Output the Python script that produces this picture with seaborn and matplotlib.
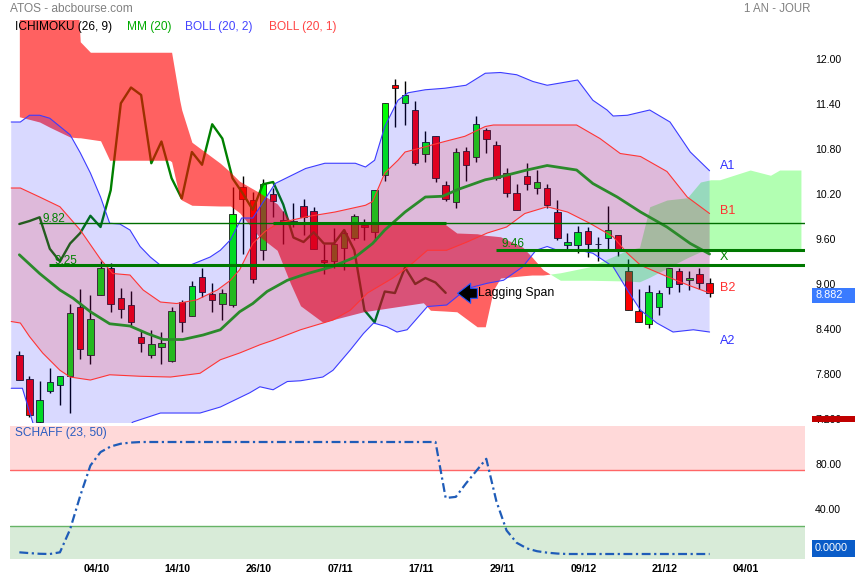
import numpy as np
import matplotlib
matplotlib.use("Agg")
import matplotlib.pyplot as plt
import seaborn as sns
from matplotlib.patches import Rectangle, FancyArrowPatch

sns.set_theme(style="white")
plt.rcParams['font.family'] = ['Liberation Sans', 'DejaVu Sans']

W, H = 855, 580

# %% data (x = session index, 0 = first visible candle)
opens = [8.05, 7.74, 7.16, 7.58, 7.66, 7.78, 8.70, 8.06, 8.85, 9.22,
         8.82, 8.72, 8.29, 8.05, 8.16, 7.98, 8.76, 8.58, 9.09, 8.87,
         8.74, 8.72, 10.29, 10.12, 9.46, 10.20, 9.86, 9.81, 10.04, 9.98,
         9.32, 9.31, 9.48, 9.61, 9.79, 9.69, 10.46, 11.66, 11.42, 11.32,
         10.74, 10.97, 10.32, 10.09, 10.78, 10.70, 11.06, 10.86, 10.48, 10.22,
         10.44, 10.28, 10.28, 9.96, 9.52, 9.52, 9.71, 9.54, 9.62, 9.66,
         9.17, 8.64, 8.47, 8.69, 8.96, 9.17, 9.05, 9.14, 9.02]
highs = [8.11, 7.78, 7.71, 7.88, 7.78, 8.74, 8.94, 8.85, 9.31, 9.28,
         8.95, 8.91, 8.39, 8.39, 8.36, 8.70, 8.79, 9.04, 9.22, 9.02,
         8.93, 10.30, 10.44, 10.23, 10.40, 10.28, 9.97, 10.08, 10.13, 10.03,
         9.54, 9.75, 9.73, 9.93, 9.87, 10.25, 11.41, 11.73, 11.71, 11.44,
         11.04, 10.97, 10.37, 10.82, 10.83, 11.24, 11.08, 10.91, 10.55, 10.33,
         10.61, 10.52, 10.33, 10.12, 9.68, 9.78, 9.76, 9.63, 10.04, 9.66,
         9.33, 8.93, 8.99, 8.92, 9.22, 9.21, 9.17, 9.21, 9.08]
lows = [7.72, 7.23, 7.15, 7.55, 7.39, 7.28, 8.00, 7.94, 8.85, 8.63,
        8.55, 8.44, 8.10, 8.02, 7.94, 7.96, 8.36, 8.58, 8.83, 8.63,
        8.52, 8.70, 9.40, 9.01, 9.32, 9.90, 9.54, 9.76, 9.65, 9.47,
        9.14, 9.21, 9.19, 9.59, 9.59, 9.58, 10.38, 11.09, 11.12, 10.59,
        10.63, 10.36, 10.11, 10.01, 10.38, 10.63, 10.75, 10.39, 10.16, 9.99,
        10.25, 10.20, 10.02, 9.59, 9.45, 9.41, 9.36, 9.31, 9.45, 9.38,
        8.65, 8.49, 8.41, 8.59, 8.87, 8.90, 8.92, 8.94, 8.83]
closes = [7.72, 7.25, 7.46, 7.70, 7.78, 8.62, 8.13, 8.53, 9.22, 8.74,
          8.67, 8.50, 8.21, 8.20, 8.22, 8.64, 8.50, 8.98, 8.89, 8.79,
          8.88, 9.93, 10.14, 9.07, 10.34, 10.11, 9.80, 9.84, 9.89, 9.47,
          9.30, 9.54, 9.68, 9.91, 9.76, 10.25, 11.41, 11.62, 11.52, 10.61,
          10.90, 10.41, 10.14, 10.76, 10.59, 11.13, 10.94, 10.41, 10.21, 9.99,
          10.33, 10.36, 10.06, 9.62, 9.56, 9.69, 9.54, 9.54, 9.72, 9.45,
          8.65, 8.49, 8.90, 8.88, 9.22, 9.00, 9.08, 9.02, 8.882]

# Bollinger (20, 2)
boll2_up_x = [-0.8, 0.1, 1.0, 2.0, 3.0, 5.0, 6.0, 7.0, 8.0, 8.9, 9.9, 10.9, 11.9, 12.9, 13.9, 16.8,
              18.8, 19.8, 20.8, 21.9, 23.0, 25.2, 28.2, 30.1, 33.1, 34.1, 35.0, 36.0, 37.3, 38.3,
              40.0, 41.9, 44.0, 45.9, 47.4, 49.0, 50.6, 52.0, 53.3, 55.0, 56.5, 57.9, 58.5, 59.9,
              62.1, 64.1, 66.1, 68.0]
boll2_up = [11.16, 11.16, 11.25, 11.25, 11.21, 10.99, 10.75, 10.48, 10.16, 9.81, 9.80, 9.72, 9.50,
            9.36, 9.25, 9.25, 9.36, 9.45, 9.59, 9.88, 9.88, 10.34, 10.54, 10.61, 10.61, 10.56, 10.65,
            11.10, 11.45, 11.55, 11.59, 11.61, 11.65, 11.81, 11.82, 11.79, 11.70, 11.65, 11.68, 11.72,
            11.45, 11.32, 11.24, 11.25, 11.32, 11.16, 10.76, 10.51]
boll2_lo_x = [-0.8, 0.3, 1.4, 2.5, 4.0, 6.0, 9.0, 11.2, 13.9, 17.8, 19.8, 22.7, 23.7, 25.0, 26.4,
              27.7, 29.9, 30.9, 32.6, 33.9, 34.9, 36.2, 37.2, 38.2, 40.2, 42.1, 44.1, 46.1, 47.7,
              49.6, 50.9, 52.0, 53.0, 55.2, 56.5, 58.5, 59.9, 61.2, 62.8, 64.4, 66.4, 68.0]
boll2_lo = [7.61, 7.61, 7.12, 6.95, 6.80, 6.75, 6.90, 7.16, 7.28, 7.28, 7.36, 7.55, 7.63, 7.59,
            7.70, 7.71, 7.76, 7.85, 8.12, 8.34, 8.48, 8.43, 8.36, 8.39, 8.70, 8.72, 8.94, 9.01,
            9.05, 9.23, 9.45, 9.50, 9.45, 9.45, 9.41, 9.23, 8.92, 8.65, 8.48, 8.36, 8.39, 8.36]
# Bollinger (20, 1)
boll1_up_x = [-0.8, 0.1, 2.0, 4.0, 6.0, 8.0, 9.2, 10.9, 12.2, 13.9, 15.5, 17.5, 19.5, 20.8, 21.7,
              23.0, 24.2, 25.5, 28.4, 31.1, 34.1, 34.8, 36.0, 37.3, 38.0, 40.0, 41.9, 43.9, 45.9,
              46.7, 54.9, 57.2, 59.2, 61.2, 63.8, 65.8, 68.0]
boll1_up = [10.28, 10.28, 10.16, 10.03, 9.72, 9.33, 9.14, 9.12, 8.92, 8.76, 8.74, 8.79, 8.92, 9.05,
            9.19, 9.54, 9.70, 9.81, 9.90, 9.96, 10.05, 10.10, 10.48, 10.65, 10.76, 10.83, 10.90,
            10.97, 11.10, 11.12, 11.12, 10.94, 10.74, 10.70, 10.50, 10.16, 9.94]
boll1_lo_x = [-0.8, 0.1, 1.0, 2.3, 4.0, 5.0, 7.0, 8.9, 11.9, 14.9, 17.8, 19.8, 21.7, 23.7, 25.0,
              27.7, 30.9, 32.6, 34.3, 36.8, 38.5, 40.2, 42.1, 44.1, 46.1, 48.0, 49.8, 52.0, 54.0,
              56.2, 58.5, 59.9, 61.2, 63.8, 65.8, 68.0]
boll1_lo = [8.50, 8.48, 8.30, 8.08, 7.85, 7.76, 7.72, 7.79, 7.77, 7.76, 7.81, 7.99, 8.08, 8.19,
            8.25, 8.39, 8.52, 8.65, 8.88, 9.08, 9.25, 9.45, 9.45, 9.56, 9.68, 9.76, 9.94, 10.03,
            9.96, 9.81, 9.63, 9.41, 9.25, 9.10, 8.99, 8.88]
# MM (20)
mm_x = [0, 2.0, 4.0, 5.3, 7.0, 8.9, 10.9, 12.6, 14.2, 16.1, 18.1, 19.8, 21.7, 23.0, 24.4, 26.4,
        27.7, 28.4, 30.8, 33.1, 34.8, 36.0, 38.0, 40.0, 41.7, 43.2, 45.9, 47.4, 50.0, 52.0, 54.9,
        56.5, 58.9, 61.2, 63.8, 66.1, 68.0]
mm = [9.39, 9.14, 8.92, 8.81, 8.63, 8.47, 8.44, 8.34, 8.26, 8.26, 8.32, 8.39, 8.63, 8.74, 8.90,
      9.05, 9.11, 9.14, 9.23, 9.36, 9.54, 9.72, 9.96, 10.16, 10.17, 10.26, 10.39, 10.43, 10.52,
      10.58, 10.52, 10.34, 10.16, 9.96, 9.76, 9.54, 9.40]

# Ichimoku cloud (senkou span A / B)
cloud_x = [0, 2, 3, 5, 5.8, 6, 7, 8, 8.9, 14.8, 15, 15.8, 16, 17, 19.8, 20.8, 21.7, 23.5, 25.4,
           26.7, 27.7, 29.9, 33.9, 39.8, 40.5, 41.9, 43.1, 45.1, 45.9, 46.7, 47.4, 49.6, 50.5,
           51.6, 53.3, 56.2, 59.9, 61.1, 62.1, 63.8, 65.8, 67.1, 68.1, 69, 72, 74, 74.9, 77]
span_a = [11.23, 11.16, 11.09, 10.96, 10.95, 10.95, 10.93, 10.91, 10.65, 10.65, 10.63, 10.15,
          10.12, 10.05, 10.04, 10.04, 9.95, 9.65, 9.45, 9.01, 8.71, 8.49, 8.63, 8.75, 8.65, 8.64,
          8.63, 8.43, 8.43, 8.92, 9.08, 9.11, 9.12, 9.12, 9.15, 9.23, 9.45, 9.49, 10.03, 10.12,
          10.15, 10.36, 10.39, 10.39, 10.52, 10.45, 10.52, 10.52]
span_b = [12.70, 12.70, 12.70, 12.70, 12.70, 12.23, 12.09, 12.09, 12.09, 12.09, 12.09, 11.45,
          11.32, 10.89, 10.61, 10.49, 10.37, 10.23, 10.07, 9.84, 9.80, 9.80, 9.80, 9.80, 9.80,
          9.80, 9.68, 9.67, 9.65, 9.64, 9.63, 9.49, 9.36, 9.19, 9.05, 9.05, 9.04, 9.03, 9.09,
          9.21, 9.35, 9.43, 9.44, 9.46, 9.46, 9.46, 9.46, 9.46]
lag_shift = 26

# Schaff (23, 50)
schaff = [1.5, 0.8, 0.2, 0.0, 1.5, 22, 52, 79, 91, 96,
          98.5, 99.5, 100, 100, 100, 100, 100, 100, 100, 100,
          100, 100, 100, 100, 100, 100, 100, 100, 100, 100,
          100, 100, 100, 100, 100, 100, 100, 100, 100, 100,
          100, 100, 50, 51, 63, 74, 85, 47, 21, 10,
          5, 2.5, 1.2, 0.4, 0, 0, 0, 0, 0, 0,
          0, 0, 0, 0, 0, 0, 0, 0, 0]

price_ticks = [12.0, 11.4, 10.8, 10.2, 9.6, 9.0, 8.4, 7.8, 7.2]
price_labels = ['12.00', '11.40', '10.80', '10.20', '9.60', '9.00', '8.400', '7.800', '7.200']
date_labels = ['04/10', '14/10', '26/10', '07/11', '17/11', '29/11', '09/12', '21/12', '04/01']

# %% figure
fig = plt.figure(figsize=(W / 100, H / 100), dpi=100)
fig.patch.set_facecolor('white')


def box(l, t, r, b):
    return [l / W, 1 - b / H, (r - l) / W, (b - t) / H]


def ftext(x, y, s, **kw):
    fig.text(x / W, 1 - y / H, s, **kw)


ax = fig.add_axes(box(10, 20, 805, 423))
ax2 = fig.add_axes(box(10, 426, 805, 559))

k = np.arange(len(closes))
o, h, l, c = map(np.array, (opens, highs, lows, closes))

# candles
ax.vlines(k, l, h, color='black', lw=1, zorder=1)
body_col = np.where(c > o, '#00ff00', np.where(c < o, '#ff0000', 'black'))
ax.bar(k, np.abs(c - o), bottom=np.minimum(o, c), width=0.64, color=body_col,
       edgecolor='#1a1a1a', lw=0.6, zorder=1.5)

# lagging span = closes shifted back
sns.lineplot(x=k[:len(k) - lag_shift], y=c[lag_shift:], ax=ax, color='#008000', lw=1.7,
             estimator=None, sort=False, zorder=2)

# cloud
cx, sa, sb = np.array(cloud_x), np.array(span_a), np.array(span_b)
ax.fill_between(cx, sa, sb, where=sb >= sa, interpolate=True, color='#ff0000', alpha=0.62, lw=0, zorder=3)
ax.fill_between(cx, sa, sb, where=sa > sb, interpolate=True, color='#00ff00', alpha=0.30, lw=0, zorder=3)

# bollinger fills
ax.fill(np.r_[boll2_up_x, boll2_lo_x[::-1]], np.r_[boll2_up, boll2_lo[::-1]],
        color='#0000ff', alpha=0.15, lw=0, zorder=4)
ax.fill(np.r_[boll1_up_x, boll1_lo_x[::-1]], np.r_[boll1_up, boll1_lo[::-1]],
        color='#ff0000', alpha=0.145, lw=0, zorder=4.1)
for xs, ys, col in [(boll2_up_x, boll2_up, '#3c3cff'), (boll2_lo_x, boll2_lo, '#3c3cff'),
                    (boll1_up_x, boll1_up, '#ff3535'), (boll1_lo_x, boll1_lo, '#ff3535')]:
    sns.lineplot(x=xs, y=ys, ax=ax, color=col, lw=0.8, estimator=None, sort=False, zorder=5)
sns.lineplot(x=mm_x, y=mm, ax=ax, color='#2b8a2b', lw=2.0, estimator=None, sort=False, zorder=6)

# horizontal levels
ax.hlines(9.82, 1.9, 77.4, color='#006e00', lw=1.0, zorder=7)
ax.hlines(9.82, 25, 42, color='#007800', lw=2.2, zorder=7)
ax.hlines(9.25, 2.9, 77.4, color='#007800', lw=2.2, zorder=7)
ax.hlines(9.46, 47, 77.4, color='#007800', lw=2.2, zorder=7)
ax.text(2.33, 9.87, '9.82', color='#008000', fontsize=8.5, va='center', zorder=8)
ax.text(3.42, 9.31, '9.25', color='#008000', fontsize=8.5, va='center', zorder=8)
ax.text(47.46, 9.53, '9.46', color='#008000', fontsize=8.5, va='center', zorder=8)

for lab, y, col in [('A1', 10.567, '#3030ff'), ('B1', 9.973, '#ff3030'), ('X', 9.36, '#008000'),
                    ('B2', 8.953, '#ff3030'), ('A2', 8.24, '#3030ff')]:
    ax.text(69.0, y, lab, color=col, fontsize=9, va='center', zorder=8)

ax.text(45.19, 8.876, 'Lagging Span', color='black', fontsize=8.8, va='center', zorder=8)
ax.add_patch(FancyArrowPatch((45.4, 8.876), (42.9, 8.876),
                             arrowstyle='simple,head_length=0.94,head_width=1.44,tail_width=0.72',
                             mutation_scale=10, fc='black', ec='#2255ff', lw=0.8, zorder=9))

# schaff panel
ax2.axhspan(75, 120, color='#ffd9d9', lw=0, zorder=0)
ax2.axhspan(-10, 25, color='#d8ebd8', lw=0, zorder=0)
ax2.axhline(75, color='#ff6666', lw=1, zorder=1)
ax2.axhline(25, color='#66b366', lw=1, zorder=1)
sns.lineplot(x=k, y=schaff, ax=ax2, color='#1f5cb8', lw=1.6, linestyle=(0, (4, 1.6, 1, 1.6)),
             estimator=None, sort=False, zorder=2)

for a in (ax, ax2):
    a.set_xlim(-0.92, 77.4)
    a.set_facecolor('white')
    for s in a.spines.values():
        s.set_visible(False)
    a.set_xlabel('')
    a.set_ylabel('')
    a.yaxis.tick_right()

ax.set_ylim(7.147, 12.52)
ax.set_xticks([])
ax.set_yticks(price_ticks)
ax.set_yticklabels(price_labels)
ax.tick_params(axis='y', length=0, pad=7.2, labelsize=7.6, colors='black')

ax2.set_ylim(-4.46, 114.29)
ax2.set_yticks([80, 40])
ax2.set_yticklabels(['80.00', '40.00'])
ax2.set_xticks(np.arange(len(date_labels)) * 8 + 7.6)
ax2.set_xticklabels(date_labels, fontweight='bold')
ax2.tick_params(axis='y', length=0, pad=7.2, labelsize=7.6, colors='black')
ax2.tick_params(axis='x', length=0, pad=3.5, labelsize=7.6, colors='black')

# header texts
ftext(10, 9, 'ATOS - abcbourse.com', color='#808080', fontsize=8.6, va='center')
ftext(810, 9, '1 AN - JOUR', color='#808080', fontsize=8.3, va='center', ha='right')
ftext(15, 27, 'ICHIMOKU (26, 9)', color='black', fontsize=8.6, va='center')
ftext(127, 27, 'MM (20)', color='#00aa00', fontsize=8.6, va='center')
ftext(185, 27, 'BOLL (20, 2)', color='#4444ff', fontsize=8.6, va='center')
ftext(269, 27, 'BOLL (20, 1)', color='#ff4444', fontsize=8.6, va='center')
ftext(15, 433, 'SCHAFF (23, 50)', color='#2a5cc0', fontsize=8.6, va='center')

# last value boxes
for (t, b, col) in [(288, 303, '#3a7bff'), (540, 557, '#0a5cc8'), (416, 422, '#c00000')]:
    x0, y0, w, hh = box(812, t, 855, b)
    fig.add_artist(Rectangle((x0, y0), w, hh, transform=fig.transFigure, color=col, lw=0, zorder=5))
ftext(815, 295.5, '8.882', color='white', fontsize=7.8, va='center', zorder=6)
ftext(815, 548, '0.0000', color='white', fontsize=7.8, va='center', zorder=6)

fig.savefig('out.png', dpi=100)
